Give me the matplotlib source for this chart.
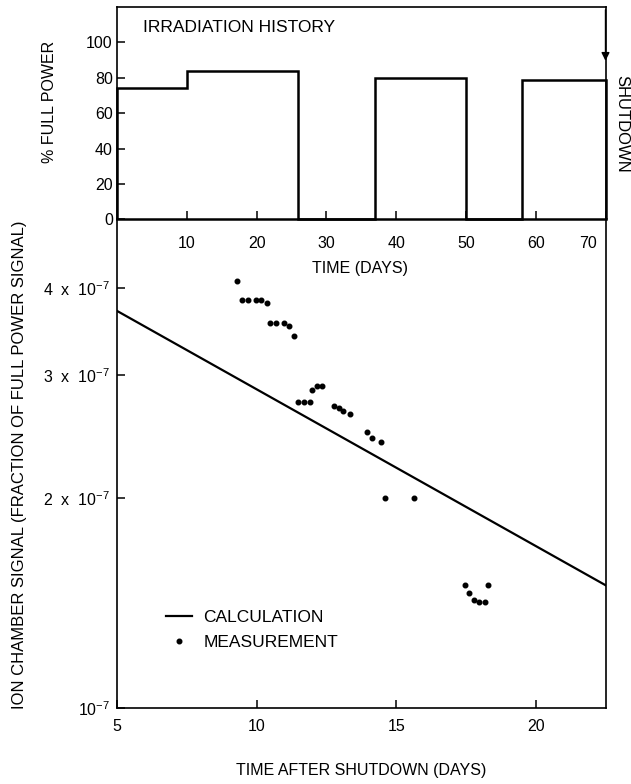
import matplotlib
matplotlib.use("Agg")
import matplotlib.pyplot as plt
from matplotlib.lines import Line2D

plt.rcParams['font.family'] = ['Liberation Sans', 'DejaVu Sans']
plt.rcParams['mathtext.default'] = 'regular'
plt.rcParams['font.size'] = 12

# irradiation history (days, % full power)
power_edges = [0, 10, 26, 37, 50, 58, 70]
power_levels = [74, 84, 0, 80, 0, 79]
day_ticks = [10, 20, 30, 40, 50, 60, 70]

# calculated decay after shutdown (end points of the straight line, x 1e-7)
calc_days = [5, 22.5]
calc_signal = [3.71, 1.50]

# measured ion chamber signal (x 1e-7)
meas_days = [9.31, 9.47, 9.70, 9.98, 10.17, 10.36, 10.48, 10.70, 10.97, 11.17,
             11.33, 11.48, 11.70, 11.91, 12.00, 12.18, 12.34, 12.79, 12.96, 13.10,
             13.33, 13.96, 14.15, 14.47, 14.60, 15.63, 17.47, 17.62, 17.78, 17.97,
             18.17, 18.30]
meas_signal = [4.09, 3.85, 3.85, 3.85, 3.85, 3.81, 3.56, 3.56, 3.56, 3.53,
               3.41, 2.75, 2.75, 2.75, 2.86, 2.90, 2.90, 2.71, 2.69, 2.67,
               2.64, 2.49, 2.44, 2.41, 2.00, 2.00, 1.50, 1.46, 1.43, 1.42,
               1.42, 1.50]

sig_ticks = [1, 2, 3, 4]
sig_labels = ['10$^{-7}$', '2  x  10$^{-7}$', '3  x  10$^{-7}$', '4  x  10$^{-7}$']

fig = plt.figure(figsize=(6.31, 7.84), dpi=100)
L, W = 117 / 631, 488.5 / 631
ax = fig.add_axes([L, 1 - 708 / 784, W, (708 - 219.3) / 784])
ax_top = fig.add_axes([L, 1 - 219.3 / 784, W, (219.3 - 7) / 784])
ax.set_facecolor('none')
ax_top.set_facecolor('none')

for a in (ax_top, ax):
    for s in a.spines.values():
        s.set_linewidth(1.2)
    a.tick_params(direction='in', length=6, width=1.1, labelsize=11.5)
ax.spines['top'].set_visible(False)
ax_top.spines['bottom'].set_visible(False)

# top panel - irradiation history
ax_top.stairs(power_levels, power_edges, baseline=0, color='black', lw=1.8, clip_on=False)
ax_top.axhline(0, color='black', lw=1.8, clip_on=False)
ax_top.set_xlim(0, 70)
ax_top.set_ylim(0, 120)
ax_top.set_yticks([0, 20, 40, 60, 80, 100])
ax_top.set_xticks(day_ticks)
# last label sits left of the spine, as in the original
ax_top.set_xticklabels([str(d) for d in day_ticks[:-1]] + [''])
ax_top.text(day_ticks[-1] - 2.5, -13.4, str(day_ticks[-1]), ha='center', va='center',
            fontsize=11.5, clip_on=False)
ax_top.tick_params(axis='x', pad=12)
ax_top.tick_params(axis='y', pad=3)
ax_top.text((143 - 117) / 488.5, (219.3 - 28) / 212.3, 'IRRADIATION HISTORY',
            transform=ax_top.transAxes, ha='left', va='center', fontsize=12.5)
ax_top.annotate('', xy=(70, 88), xytext=(70, 120),
                arrowprops=dict(arrowstyle='-|>', color='black', lw=1.0, mutation_scale=12),
                annotation_clip=False)
fig.text(621.5 / 631, 1 - 124 / 784, 'SHUTDOWN', rotation=-90, ha='center', va='center', fontsize=12)
fig.text(50 / 631, 1 - 102 / 784, '% FULL POWER', rotation=90, ha='center', va='center', fontsize=11.5)
fig.text(360 / 631, 1 - 268 / 784, 'TIME (DAYS)', ha='center', va='center', fontsize=11.5)

# lower panel - signal after shutdown
ax.plot(calc_days, [v * 1e-7 for v in calc_signal], color='black', lw=1.6)
ax.plot(meas_days, [v * 1e-7 for v in meas_signal], 'o', color='black', ms=3.3)
ax.set_yscale('log')
ax.set_xlim(5, 22.5)
ax.set_ylim(1e-7, 5.02e-7)
ax.set_yticks([t * 1e-7 for t in sig_ticks])
ax.set_yticklabels(sig_labels)
ax.minorticks_off()
ax.set_xticks([5, 10, 15, 20])
ax.tick_params(axis='x', pad=8)
ax.tick_params(axis='y', pad=5)

fig.text(361 / 631, 1 - 770 / 784, 'TIME AFTER SHUTDOWN (DAYS)', ha='center', va='center', fontsize=11.5)
fig.text(20 / 631, 1 - 465 / 784, 'ION CHAMBER SIGNAL (FRACTION OF FULL POWER SIGNAL)',
         rotation=90, ha='center', va='center', fontsize=12)

handles = [Line2D([], [], color='black', lw=1.6),
           Line2D([], [], marker='o', ls='', color='black', ms=3.3)]
ax.legend(handles, ['CALCULATION', 'MEASUREMENT'], loc='upper left',
          bbox_to_anchor=((166 - 117) / 488.5, (708 - 610) / 488.7), frameon=False,
          borderpad=0, borderaxespad=0, handlelength=1.5, handletextpad=0.65,
          labelspacing=0.55, fontsize=12.5)

fig.savefig('out.png', dpi=100)
